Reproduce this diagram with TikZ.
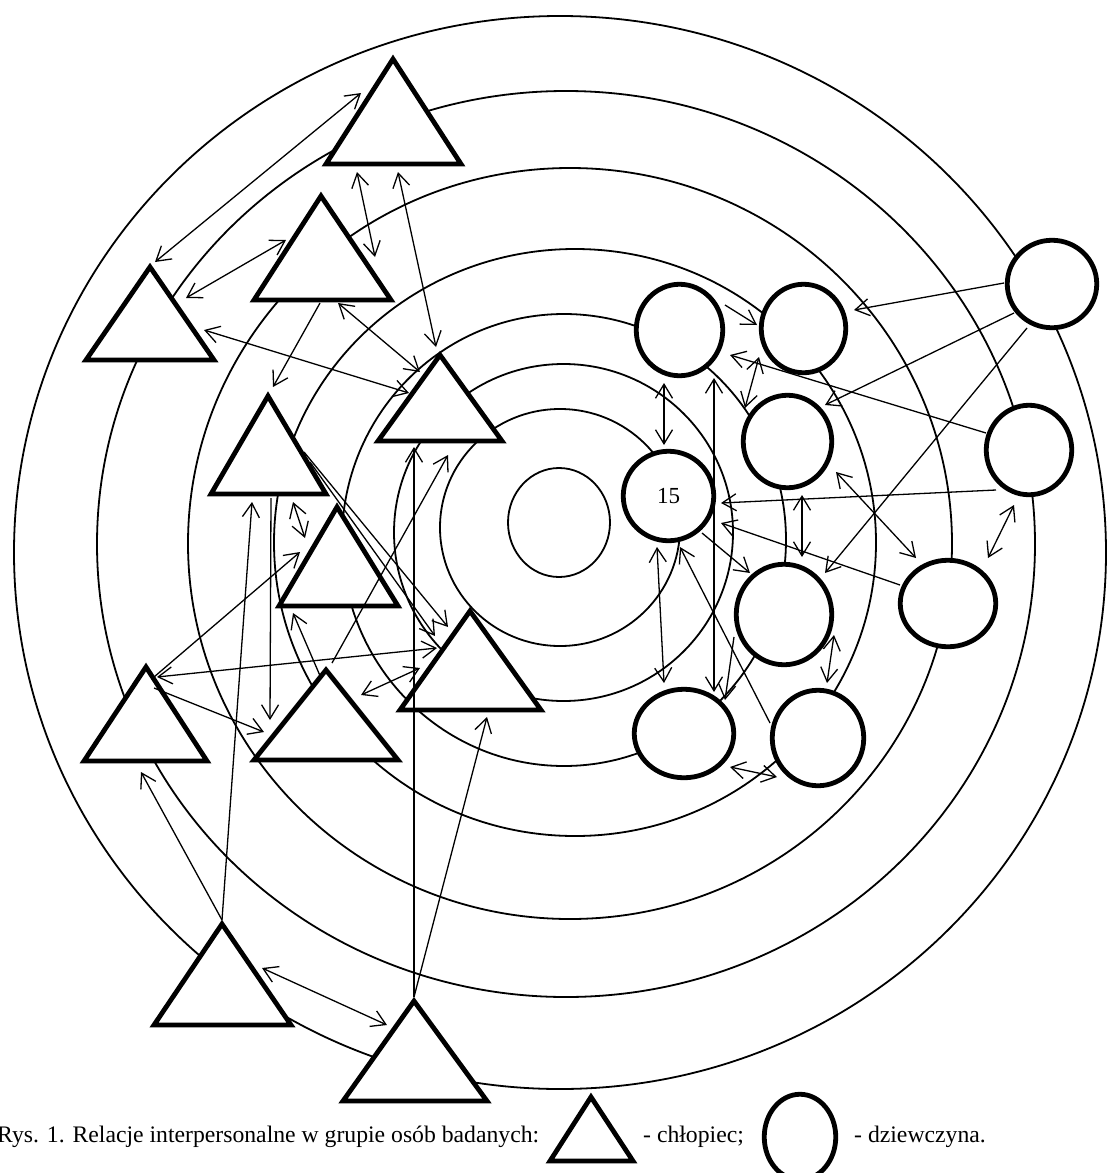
\documentclass[tikz,border=0pt]{standalone}
\usepackage{fontspec}
\setmainfont{Liberation Serif}
\usetikzlibrary{shapes.geometric,arrows.meta,calc}
\tikzset{
  ring/.style={line width=1.8pt},
  girl/.style={draw,ellipse,line width=4.8pt,fill=white,inner sep=0pt},
  boy/.style={draw,line width=4.8pt,fill=white,line join=miter},
  rel/.style={line width=1.3pt,-{Straight Barb[length=14pt,width=17pt]}},
  mut/.style={line width=1.3pt,{Straight Barb[length=14pt,width=17pt]}-{Straight Barb[length=14pt,width=17pt]}},
  txt/.style={inner sep=0pt,font=\fontsize{23.7}{28}\selectfont}
}
\newcommand\boytri[6]{%
  \coordinate (#1) at (#2,#3);
  \draw[boy] (#2,#3+4) -- (#4+4,#6-2) -- (#5-4,#6-2) -- cycle;}
\begin{document}
\begin{tikzpicture}[x=1pt,y=-1pt]
\useasboundingbox (0,0) rectangle (1110,1173);
% rings
\draw[ring] (559,522.5) ellipse [x radius=51pt,y radius=54.5pt];
\draw[ring] (560,527.5) ellipse [x radius=120pt,y radius=118.5pt];
\draw[ring] (563.5,532.5) ellipse [x radius=169.5pt,y radius=168.5pt];
\draw[ring] (564,540) ellipse [x radius=222pt,y radius=226pt];
\draw[ring] (575,542.5) ellipse [x radius=301pt,y radius=293.5pt];
\draw[ring] (570,543.5) ellipse [x radius=382pt,y radius=375.5pt];
\draw[ring] (566,544) ellipse [x radius=469pt,y radius=453pt];
\draw[ring] (560,552.5) ellipse [x radius=546pt,y radius=536.5pt];
% boys
\boytri{t1}{393}{55}{322}{465}{166}
\boytri{t2}{321}{192}{250}{395}{302}
\boytri{t3}{150}{263}{82}{218}{362}
\boytri{t4}{268}{392}{207}{330}{496}
\boytri{t5}{440}{351}{374}{506}{443}
\boytri{t6}{337}{503}{275}{402}{608}
\boytri{t7}{470}{607}{396}{545}{712}
\boytri{t8}{146}{663}{80}{211}{763}
\boytri{t9}{326}{666}{250}{402}{762}
\boytri{t10}{222}{920}{150}{295}{1027}
\boytri{t11}{414}{997}{339}{491}{1103}
% girls
\node[girl,minimum width=86.5pt,minimum height=91.5pt] (g1) at (679.5,330) {};
\node[girl,minimum width=84.5pt,minimum height=88.5pt] (g2) at (803.5,328.5) {};
\node[girl,minimum width=89.5pt,minimum height=87.5pt] (g3) at (1052,284) {};
\node[girl,minimum width=90.5pt,minimum height=89.5pt,font=\fontsize{23}{28}\selectfont] (g4) at (668.5,496) {15};
\node[girl,minimum width=88.5pt,minimum height=92.5pt] (g5) at (787.5,441.5) {};
\node[girl,minimum width=85.5pt,minimum height=89.5pt] (g6) at (1029,450) {};
\node[girl,minimum width=95.5pt,minimum height=100.5pt] (g7) at (784,614.5) {};
\node[girl,minimum width=95.5pt,minimum height=86.5pt] (g8) at (948,603.5) {};
\node[girl,minimum width=99.5pt,minimum height=88.5pt] (g9) at (684,733.5) {};
\node[girl,minimum width=91.5pt,minimum height=95.5pt] (g10) at (818,738) {};
% boys relations
\draw[mut] ($(t3)+(5,-1)$) -- ($(t1)+(-32,38)$);
\draw[mut] ($(t2)+(-35,48)$) -- ($(t3)+(36,35)$);
\draw[mut] ($(t1)+(-36,117)$) -- ($(t2)+(54,65)$);
\draw[mut] ($(t1)+(5,117)$) -- ($(t5)+(-4,-4)$);
\draw[rel] ($(t2)+(-1,111)$) -- ($(t4)+(5,-5)$);
\draw[mut] ($(t3)+(54,67)$) -- ($(t5)+(-31,42)$);
\draw[mut] ($(t2)+(17,111)$) -- ($(t5)+(-20,21)$);
\draw[rel] ($(t4)+(36,60)$) -- ($(t7)+(-22,20)$);
\draw[rel] ($(t4)+(42,70)$) -- ($(t7)+(-35,29)$);
\draw[mut] ($(t4)+(25,110)$) -- ($(t6)+(-32,35)$);
\draw[rel] ($(t8)+(8,14)$) -- ($(t6)+(-37,49)$);
\draw[rel] ($(t8)+(8,25)$) -- ($(t9)+(-62,66)$);
\draw[rel] ($(t4)+(3,106)$) -- ($(t9)+(-56,54)$);
\draw[rel] (t10) -- ($(t4)+(-16,110)$);
\draw[rel] (t10) -- ($(t8)+(-5,109)$);
\draw[rel] ($(t9)+(-5,12)$) -- ($(t6)+(-44,110)$);
\draw[rel] ($(t9)+(6,-3)$) -- ($(t5)+(8,104)$);
\draw[rel] (t11) -- ($(t5)+(-26,96)$);
\draw[rel] (t11) -- ($(t7)+(17,110)$);
\draw[mut] ($(t9)+(35,29)$) -- ($(t7)+(-50,61)$);
\draw[mut] ($(t8)+(11,14)$) -- ($(t7)+(-33,41)$);
\draw[mut] ($(t10)+(40,48)$) -- ($(t11)+(-27,28)$);
% girls relations
\draw[mut] ($(g1)+(-15.5,53)$) -- ($(g4)+(-4.5,-51)$);
\draw[mut] ($(g1)+(34.5,48)$) -- ($(g9)+(30,-41.5)$);
\draw[rel] ($(g1)+(45.5,-25)$) -- ($(g2)+(-46.5,-3.5)$);
\draw[rel] ($(g6)+(-43,-17)$) -- ($(g1)+(50.5,25)$);
\draw[mut] ($(g2)+(-44.5,28.5)$) -- ($(g5)+(-42.5,-33.5)$);
\draw[rel] ($(g3)+(-48,-1)$) -- ($(g2)+(50.5,-18.5)$);
\draw[rel] ($(g3)+(-38,29)$) -- ($(g5)+(37.5,-36.5)$);
\draw[rel] ($(g3)+(-25,44)$) -- ($(g7)+(41,-41.5)$);
\draw[rel] ($(g6)+(-33,40)$) -- ($(g4)+(52.5,7)$);
\draw[rel] ($(g8)+(-48,-18.5)$) -- ($(g4)+(52.5,27)$);
\draw[mut] ($(g5)+(14.5,53.5)$) -- ($(g7)+(18,-57.5)$);
\draw[mut] ($(g5)+(48.5,30.5)$) -- ($(g8)+(-32,-45.5)$);
\draw[mut] ($(g6)+(-15,55)$) -- ($(g8)+(40,-45.5)$);
\draw[rel] ($(g4)+(33.5,37)$) -- ($(g7)+(-34,-41.5)$);
\draw[mut] ($(g4)+(-11.5,51)$) -- ($(g9)+(-20,-50.5)$);
\draw[rel] ($(g10)+(-48,-15)$) -- ($(g4)+(11.5,51)$);
\draw[rel] ($(g7)+(-50,22.5)$) -- ($(g9)+(41,-33.5)$);
\draw[mut] ($(g7)+(50,20.5)$) -- ($(g10)+(9,-55)$);
\draw[mut] ($(g9)+(46,33.5)$) -- ($(g10)+(-41,39)$);
% legend
\node[txt,anchor=base west] (capt) at (-3,1142) {Rys. 1. Relacje interpersonalne w grupie osób badanych:};
\boytri{lt}{591}{1093}{546}{637}{1163}
\node[txt,anchor=base west] (lbt) at (643,1142) {- chłopiec;};
\node[girl,minimum width=71.5pt,minimum height=85.5pt] (lg) at (800,1137) {};
\node[txt,anchor=base west] (lgt) at (854,1142) {- dziewczyna.};
\end{tikzpicture}
\end{document}
